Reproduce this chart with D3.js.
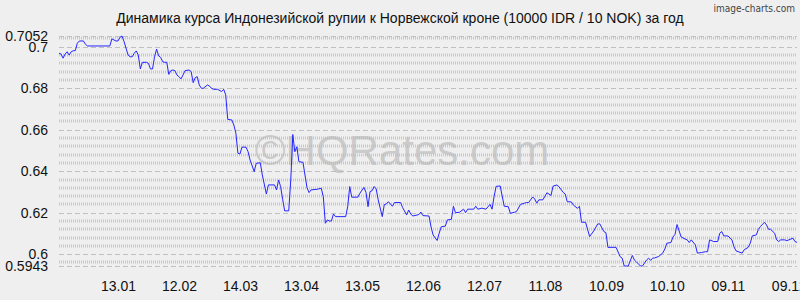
<!DOCTYPE html>
<html>
<head>
<meta charset="utf-8">
<script src="https://cdn.jsdelivr.net/npm/d3@7"></script>
<style>
	body { margin: 0; background: #efefef; }
	svg { display: block; font-family: "Liberation Sans", Arial, sans-serif; }
</style>
</head>
<body>
<div id="chart"></div>
<script>

const title = "Динамика курса Индонезийской рупии к Норвежской кроне (10000 IDR / 10 NOK) за год";
const credit = "image-charts.com";
const watermark = "©HQRates.com";

// day 0 = first point of the series
const startDate = "2012-12-15";
const endDate = "2013-12-13";

const dayOffsets = [
	0, 1, 2, 3, 4, 5, 6, 7, 8, 9,
	10, 12, 13, 14, 25, 26, 28, 29, 30, 31,
	32, 34, 35, 36, 37, 38, 39, 40, 41, 43,
	44, 45, 46, 47, 48, 49, 50, 51, 52, 53,
	54, 55, 56, 57, 58, 59, 60, 61, 62, 64,
	65, 66, 67, 68, 69, 70, 71, 73, 74, 75,
	76, 78, 80, 81, 82, 83, 85, 86, 87, 88,
	89, 90, 92, 93, 94, 96, 97, 99, 100, 102,
	103, 106, 107, 108, 109, 110, 111, 113, 114, 115,
	116, 117, 118, 120, 122, 123, 124, 127, 129, 130,
	131, 132, 133, 134, 135, 136, 141, 142, 143, 144,
	147, 148, 150, 151, 152, 153, 154, 155, 156, 157,
	159, 160, 161, 162, 164, 165, 168, 169, 171, 172,
	173, 174, 177, 178, 179, 182, 183, 184, 186, 187,
	188, 190, 191, 193, 194, 195, 197, 199, 200, 201,
	204, 205, 206, 208, 210, 212, 213, 214, 215, 217,
	219, 221, 222, 224, 225, 227, 229, 230, 231, 233,
	234, 235, 236, 238, 240, 241, 242, 243, 245, 246,
	248, 249, 250, 252, 253, 255, 256, 257, 259, 261,
	263, 265, 266, 268, 269, 270, 274, 276, 277, 278,
	280, 282, 283, 284, 286, 287, 289, 290, 291, 292,
	293, 295, 297, 298, 299, 301, 302, 303, 304, 306,
	308, 309, 310, 311, 313, 314, 316, 318, 319, 320,
	322, 324, 325, 326, 327, 329, 331, 332, 333, 336,
	337, 339, 340, 341, 343, 344, 345, 347, 348, 349,
	350, 352, 353, 354, 355, 357, 358, 359, 361, 362,
	363
];

const rates = [
	0.6969, 0.6965, 0.6945, 0.6965, 0.6976, 0.6960, 0.6976, 0.6981, 0.6981, 0.7017,
	0.7028, 0.7028, 0.7012, 0.7004, 0.7004, 0.7038, 0.7028, 0.7028, 0.7046, 0.7052,
	0.7025, 0.6960, 0.6952, 0.6952, 0.6969, 0.6980, 0.6960, 0.6893, 0.6925, 0.6925,
	0.6920, 0.6893, 0.6893, 0.6952, 0.6989, 0.6956, 0.6949, 0.6928, 0.6925, 0.6925,
	0.6867, 0.6885, 0.6888, 0.6885, 0.6864, 0.6856, 0.6845, 0.6864, 0.6885, 0.6888,
	0.6880, 0.6827, 0.6851, 0.6856, 0.6816, 0.6800, 0.6800, 0.6816, 0.6811, 0.6800,
	0.6795, 0.6795, 0.6784, 0.6795, 0.6768, 0.6650, 0.6647, 0.6623, 0.6583, 0.6487,
	0.6483, 0.6516, 0.6516, 0.6494, 0.6454, 0.6398, 0.6438, 0.6441, 0.6382, 0.6290,
	0.6334, 0.6334, 0.6310, 0.6358, 0.6326, 0.6265, 0.6209, 0.6209, 0.6358, 0.6577,
	0.6494, 0.6518, 0.6446, 0.6443, 0.6320, 0.6297, 0.6310, 0.6313, 0.6318, 0.6277,
	0.6149, 0.6165, 0.6160, 0.6160, 0.6194, 0.6181, 0.6181, 0.6229, 0.6326, 0.6275,
	0.6275, 0.6294, 0.6322, 0.6298, 0.6229, 0.6302, 0.6306, 0.6326, 0.6315, 0.6262,
	0.6181, 0.6239, 0.6242, 0.6253, 0.6231, 0.6249, 0.6249, 0.6225, 0.6189, 0.6213,
	0.6194, 0.6184, 0.6191, 0.6203, 0.6186, 0.6184, 0.6131, 0.6093, 0.6066, 0.6101,
	0.6132, 0.6135, 0.6165, 0.6168, 0.6231, 0.6200, 0.6202, 0.6217, 0.6200, 0.6217,
	0.6217, 0.6231, 0.6217, 0.6222, 0.6217, 0.6240, 0.6217, 0.6277, 0.6327, 0.6329,
	0.6231, 0.6229, 0.6197, 0.6202, 0.6205, 0.6240, 0.6246, 0.6249, 0.6249, 0.6276,
	0.6266, 0.6246, 0.6262, 0.6262, 0.6296, 0.6290, 0.6283, 0.6328, 0.6334, 0.6324,
	0.6298, 0.6290, 0.6253, 0.6252, 0.6237, 0.6221, 0.6231, 0.6154, 0.6154, 0.6085,
	0.6112, 0.6146, 0.6146, 0.6109, 0.6104, 0.6033, 0.6033, 0.5988, 0.5981, 0.5943,
	0.5943, 0.5994, 0.5972, 0.5963, 0.5943, 0.5943, 0.5972, 0.5981, 0.5970, 0.5981,
	0.5982, 0.5989, 0.6006, 0.6025, 0.6053, 0.6056, 0.6083, 0.6095, 0.6143, 0.6083,
	0.6073, 0.6069, 0.6056, 0.6069, 0.6045, 0.6005, 0.6008, 0.6012, 0.6012, 0.6069,
	0.6061, 0.6061, 0.6101, 0.6109, 0.6088, 0.6088, 0.6069, 0.6036, 0.6016, 0.6005,
	0.6021, 0.6033, 0.6053, 0.6088, 0.6093, 0.6120, 0.6133, 0.6154, 0.6141, 0.6120,
	0.6120, 0.6101, 0.6069, 0.6061, 0.6069, 0.6069, 0.6065, 0.6069, 0.6077, 0.6061,
	0.6057
];

const xTickLabels = [ "13.01", "12.02", "14.03", "13.04", "13.05", "12.06",
	"12.07", "11.08", "10.09", "10.10", "09.11", "09.12" ];
const xTickYear = 2013;

const yMin = 0.5943;
const yMax = 0.7052;
const yMajorTicks = [ 0.6, 0.62, 0.64, 0.66, 0.68, 0.7 ];
const yMinorStep = 0.004;

///////////////////////////////////////////////////////////////////////

function draw_chart( div_id )	{

	let width = 800, height = 300;
	let plot = { left: 59, right: 797, top: 36, bottom: 266 };

	let parse = d3.timeParse( "%Y-%m-%d" );
	let t0 = parse( startDate );

	let points = d3.zip( dayOffsets, rates ).map(
		d => ( { date: d3.timeDay.offset( t0, d[ 0 ] ), value: d[ 1 ] } )
	);

	let x = d3.scaleTime()
		.domain( [ t0, parse( endDate ) ] )
		.range( [ plot.left, plot.right ] );

	let y = d3.scaleLinear()
		.domain( [ yMin, yMax ] )
		.range( [ plot.bottom, plot.top ] );

	let svg = d3.select( "#" + div_id )
		.append( "svg" )
			.attr( "width", width )
			.attr( "height", height );

	svg.append( "rect" )
		.attr( "width", width )
		.attr( "height", height )
		.attr( "fill", "#efefef" );

	// minor grid, every 0.004 that is not a major line
	let minor = d3.range( 0.596, yMax, yMinorStep )
		.filter( v => Math.abs( v / 0.02 - Math.round( v / 0.02 ) ) > 0.01 );

	svg.append( "g" )
		.selectAll( "line" )
		.data( minor )
		.join( "line" )
			.attr( "x1", plot.left )
			.attr( "x2", plot.right )
			.attr( "y1", d => Math.round( y( d ) ) )
			.attr( "y2", d => Math.round( y( d ) ) )
			.attr( "stroke", "#c8c8c8" )
			.attr( "stroke-width", 3 )
			.attr( "stroke-dasharray", "1,1" );

	svg.append( "g" )
		.selectAll( "line" )
		.data( yMajorTicks.concat( [ yMin, yMax ] ) )
		.join( "line" )
			.attr( "x1", plot.left )
			.attr( "x2", plot.right )
			.attr( "y1", d => Math.round( y( d ) ) + 0.5 )
			.attr( "y2", d => Math.round( y( d ) ) + 0.5 )
			.attr( "stroke", "#c0c0c0" )
			.attr( "stroke-width", 1 )
			.attr( "stroke-dasharray", "5,3" );

	svg.append( "text" )
		.attr( "x", 402 )
		.attr( "y", 150 )
		.attr( "text-anchor", "middle" )
		.attr( "dominant-baseline", "central" )
		.attr( "font-size", 42 )
		.attr( "fill", "#bbb" )
		.attr( "fill-opacity", 0.7 )
		.text( watermark );

	// y axis labels
	let yAxis = d3.axisLeft( y )
		.tickValues( yMajorTicks.concat( [ yMin, yMax ] ) )
		.tickFormat( d => String( d ) )
		.tickSize( 0 )
		.tickPadding( 11 );

	svg.append( "g" )
		.attr( "transform", "translate(" + plot.left + ",0)" )
		.call( yAxis )
		.call( g => g.select( ".domain" ).remove() )
		.selectAll( "text" )
			.attr( "font-size", 14 )
			.attr( "font-family", "Liberation Sans, Arial, sans-serif" )
			.attr( "fill", "#111" );

	// x axis labels
	let tickParse = d3.timeParse( "%d.%m.%Y" );
	let xAxis = d3.axisBottom( x )
		.tickValues( xTickLabels.map( s => tickParse( s + "." + xTickYear ) ) )
		.tickFormat( d3.timeFormat( "%d.%m" ) )
		.tickSize( 0 )
		.tickPadding( 15 );

	svg.append( "g" )
		.attr( "transform", "translate(0," + plot.bottom + ")" )
		.call( xAxis )
		.call( g => g.select( ".domain" ).remove() )
		.selectAll( "text" )
			.attr( "font-size", 14 )
			.attr( "font-family", "Liberation Sans, Arial, sans-serif" )
			.attr( "fill", "#111" );

	let line = d3.line()
		.x( d => x( d.date ) )
		.y( d => y( d.value ) );

	svg.append( "path" )
		.datum( points )
		.attr( "d", line )
		.attr( "fill", "none" )
		.attr( "stroke", "#2525ff" )
		.attr( "stroke-width", 1 );

	svg.append( "text" )
		.attr( "x", 400 )
		.attr( "y", 23 )
		.attr( "text-anchor", "middle" )
		.attr( "font-size", 14 )
		.attr( "fill", "#111" )
		.text( title );

	svg.append( "text" )
		.attr( "x", 795 )
		.attr( "y", 12 )
		.attr( "text-anchor", "end" )
		.attr( "font-size", 10 )
		.attr( "font-family", "DejaVu Sans Condensed, sans-serif" )
		.attr( "fill", "#444" )
		.text( credit );
}

draw_chart( "chart" );

</script>
</body>
</html>
